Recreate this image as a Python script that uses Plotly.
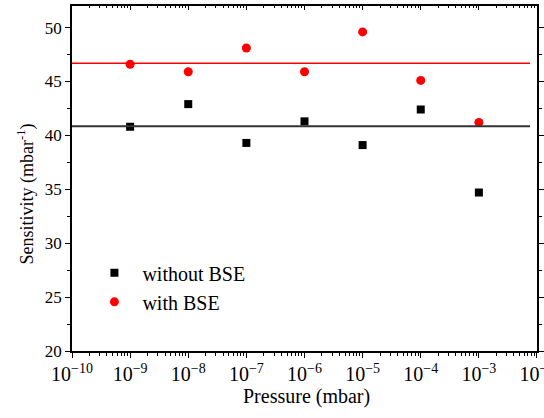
import plotly.graph_objects as go

pressure = [1e-9, 1e-8, 1e-7, 1e-6, 1e-5, 1e-4, 1e-3]
without_bse = [40.8, 42.9, 39.3, 41.3, 39.1, 42.4, 34.7]
with_bse = [46.6, 45.9, 48.1, 45.9, 49.6, 45.1, 41.2]
line_without = 40.85
line_with = 46.7

FONT = "Liberation Serif"

fig = go.Figure()
fig.add_trace(go.Scatter(x=pressure, y=without_bse, mode="markers", name="without BSE",
                         marker=dict(symbol="square", size=8, color="black")))
fig.add_trace(go.Scatter(x=pressure, y=with_bse, mode="markers", name="with BSE",
                         marker=dict(symbol="circle", size=9, color="red")))
# carrier for the top (inner-tick) axis
fig.add_trace(go.Scatter(x=pressure, y=with_bse, mode="markers", xaxis="x2",
                         marker=dict(opacity=0), showlegend=False, hoverinfo="skip"))

fig.add_shape(type="line", xref="paper", yref="y", x0=0, x1=0.985,
              y0=line_without, y1=line_without, line=dict(color="#333333", width=2))
fig.add_shape(type="line", xref="paper", yref="y", x0=0, x1=0.985,
              y0=line_with, y1=line_with, line=dict(color="red", width=1.5))

axis_common = dict(showgrid=False, zeroline=False, linecolor="black", linewidth=1.5,
                   tickcolor="black", automargin=False, ticklabeloverflow="allow")

fig.update_layout(
    width=544, height=418,
    margin=dict(l=72, r=7, t=6, b=67),
    paper_bgcolor="white", plot_bgcolor="white",
    font=dict(family=FONT, color="black"),
    showlegend=True,
    legend=dict(x=0.031, y=0.283, xanchor="left", yanchor="top",
                font=dict(family=FONT, size=20, color="black"),
                bgcolor="rgba(0,0,0,0)", itemwidth=46, tracegroupgap=0),
    xaxis=dict(type="log", range=[-10, -1.9999], dtick=1, exponentformat="power",
               ticks="outside", ticklen=5, tickwidth=1,
               tickfont=dict(family=FONT, size=16, color="black"),
               minor=dict(ticks="outside", ticklen=3, dtick="D1", tickcolor="black"),
               showline=True, mirror=True, **axis_common),
    xaxis2=dict(type="log", range=[-10, -1.9999], dtick=1, overlaying="x", side="top",
                ticks="inside", ticklen=4, tickwidth=1, showticklabels=False,
                minor=dict(ticks="inside", ticklen=2, dtick="D1", tickcolor="black"),
                showgrid=False, zeroline=False, showline=True, linecolor="black",
                linewidth=1.5, tickcolor="black"),
    yaxis=dict(range=[20, 52], dtick=5, ticks="outside", ticklen=5, tickwidth=1,
               tickfont=dict(family=FONT, size=17, color="black"),
               minor=dict(ticks="outside", ticklen=3, dtick=2.5, tickcolor="black"),
               showline=True, mirror="ticks", **axis_common),
    annotations=[
        dict(text="Pressure (mbar)", xref="paper", yref="paper", x=0.504, y=-0.094,
             xanchor="center", yanchor="top", showarrow=False,
             font=dict(family=FONT, size=20, color="black")),
        dict(text="Sensitivity (mbar<sup>-1</sup>)", xref="paper", yref="paper",
             x=-0.098, y=0.455, xanchor="center", yanchor="middle", textangle=-90,
             showarrow=False, font=dict(family=FONT, size=18, color="black")),
    ],
)

fig.write_html("out.html", config={"displayModeBar": False},
               post_script="document.body.style.margin='0';")
